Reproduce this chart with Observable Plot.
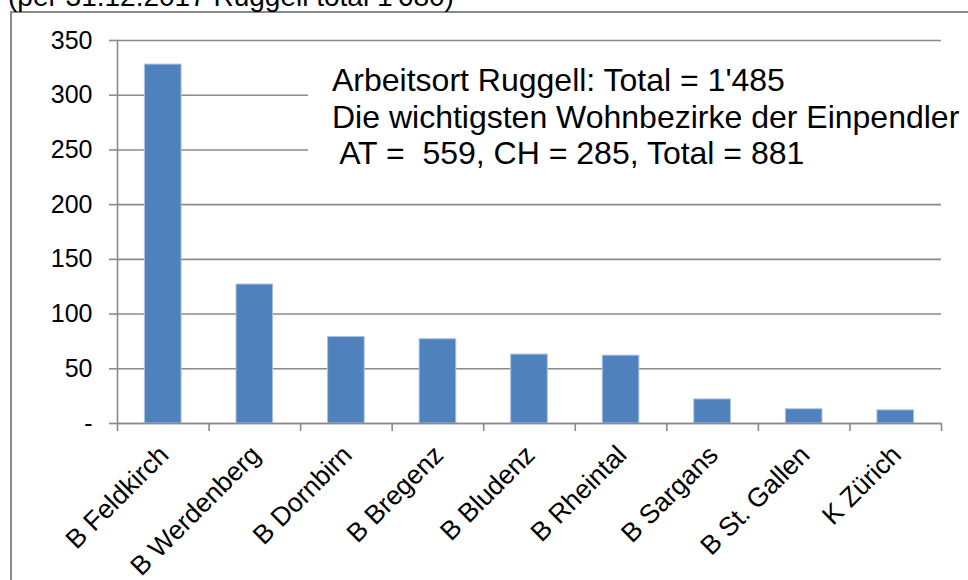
<!DOCTYPE html>
<html>
<head>
<meta charset="utf-8">
<script src="https://cdn.jsdelivr.net/npm/d3@7"></script>
<script src="https://cdn.jsdelivr.net/npm/@observablehq/plot@0.6"></script>
<style>
  body { margin: 0; background: #fff; }
  #wrap { position: relative; width: 968px; height: 580px; overflow: hidden; background: #fff;
          font-family: "Liberation Sans", Arial, sans-serif; color: #000; }
  #frame { position: absolute; left: 10px; top: 11px; width: 1000px; height: 1000px;
           border-left: 2px solid #8a8a8a; border-top: 2px solid #8a8a8a; }
  #title { position: absolute; left: 8px; top: -17px; font-size: 28px; line-height: 27px; white-space: pre; }
  #chart { position: absolute; left: 0; top: 0; }
  #note { position: absolute; left: 308px; top: 60px; width: 660px; height: 125px; background: #fff;
          font-size: 32px; line-height: 36.7px; white-space: pre; box-sizing: border-box; padding: 2px 0 0 24px; }
</style>
</head>
<body>
<div id="wrap">
  <div id="frame"></div>
  <div id="title"></div>
  <div id="chart"></div>
  <div id="note"></div>
</div>
<script>
const titleText = "(per 31.12.2017 Ruggell total 1'680)";
const noteLines = [
  "Arbeitsort Ruggell: Total = 1'485",
  "Die wichtigsten Wohnbezirke der Einpendler",
  " AT =  559, CH = 285, Total = 881"
];
const categories = ["B Feldkirch", "B Werdenberg", "B Dornbirn", "B Bregenz", "B Bludenz", "B Rheintal", "B Sargans", "B St. Gallen", "K Zürich"];
const values = [328, 127, 79, 77, 63, 62, 22, 13, 12];
const yTicks = [0, 50, 100, 150, 200, 250, 300, 350];

const data = categories.map((c, i) => ({cat: c, value: values[i]}));

document.getElementById("title").textContent = titleText;
document.getElementById("note").textContent = noteLines.join("\n");

const W = 968, H = 580, mL = 117, mR = 27, mT = 40, mB = 157;
const step = (W - mL - mR) / categories.length;
const gridColor = "#8a8a8a";

const chart = Plot.plot({
  width: W,
  height: H,
  marginTop: mT,
  marginLeft: mL,
  marginRight: mR,
  marginBottom: mB,
  style: {fontFamily: "'Liberation Sans', Arial, sans-serif", fontSize: "24px", color: "#000", background: "transparent", overflow: "visible"},
  x: {domain: categories, paddingInner: 0.6, paddingOuter: 0.3, align: 0.5, round: false, label: null},
  y: {domain: [0, 350], label: null},
  marks: [
    Plot.gridY(yTicks, {stroke: gridColor, strokeOpacity: 1, strokeWidth: 1.6}),
    Plot.axisY(yTicks, {tickSize: 8, tickPadding: 17, tickFormat: d => d === 0 ? "-" : d, stroke: gridColor, strokeWidth: 1.6, fontSize: 25, label: null}),
    Plot.barY(data, {x: "cat", y: "value", fill: "#4F81BD", stroke: "#aac2e2", strokeWidth: 1}),
    Plot.ruleY([0], {stroke: gridColor, strokeWidth: 1.6}),
    Plot.frame({anchor: "left", stroke: gridColor, strokeWidth: 1.6}),
    Plot.axisX(categories, {tickSize: 8, dx: -step / 2, tickFormat: () => "", stroke: gridColor, strokeWidth: 1.6, label: null}),
    Plot.axisX([categories[categories.length - 1]], {tickSize: 8, dx: step / 2, tickFormat: () => "", stroke: gridColor, strokeWidth: 1.6, label: null}),
    Plot.axisX(categories, {tickSize: 0, tickRotate: -45, tickPadding: 27, dx: 1, fontSize: 26.5, label: null})
  ]
});
document.getElementById("chart").appendChild(chart);
</script>
</body>
</html>
